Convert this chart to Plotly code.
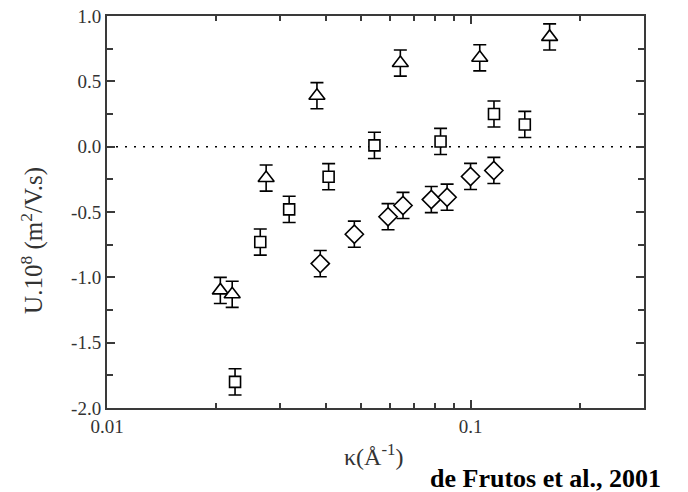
import plotly.graph_objects as go

# ---- data ----
tri_x = [0.0205, 0.0221, 0.0274, 0.0378, 0.0641, 0.106, 0.165]
tri_y = [-1.10, -1.13, -0.24, 0.39, 0.64, 0.68, 0.84]
tri_err = [0.10, 0.10, 0.10, 0.10, 0.10, 0.10, 0.10]

sq_x = [0.0225, 0.0264, 0.0317, 0.0407, 0.0544, 0.0827, 0.116, 0.141]
sq_y = [-1.80, -0.73, -0.48, -0.23, 0.01, 0.04, 0.25, 0.17]
sq_err = [0.10, 0.10, 0.10, 0.10, 0.10, 0.10, 0.10, 0.10]

dia_x = [0.0386, 0.0479, 0.0593, 0.0652, 0.078, 0.0862, 0.100, 0.1159]
dia_y = [-0.895, -0.67, -0.536, -0.45, -0.405, -0.387, -0.228, -0.182]
dia_err = [0.10, 0.10, 0.10, 0.10, 0.10, 0.10, 0.10, 0.10]

x_major = [0.01, 0.1]
x_major_text = ["0.01", "0.1"]
x_minor = [0.02, 0.03, 0.04, 0.05, 0.06, 0.07, 0.08, 0.09, 0.2]
y_major = [-2.0, -1.5, -1.0, -0.5, 0.0, 0.5, 1.0]
y_major_text = ["-2.0", "-1.5", "-1.0", "-0.5", "0.0", "0.5", "1.0"]

FONT = "Liberation Serif, Times New Roman, serif"
AX = "#3a3a3a"

fig = go.Figure()

def add_series(xs, ys, errs, symbol, size):
    fig.add_trace(go.Scatter(
        x=xs, y=ys, mode="markers",
        marker=dict(symbol=symbol, size=size, color="white",
                    line=dict(color="black", width=1.6)),
        error_y=dict(type="data", array=errs, visible=True,
                     color="black", thickness=1.6, width=6.5),
        showlegend=False, hoverinfo="x+y"))

add_series(tri_x, tri_y, tri_err, "triangle-up", 14)
add_series(sq_x, sq_y, sq_err, "square", 11)
add_series(dia_x, dia_y, dia_err, "diamond", 14)

fig.add_shape(type="line", xref="paper", yref="y", x0=0, x1=1, y0=0, y1=0,
              line=dict(color="black", width=1.5, dash="2px,7px"), layer="below")

fig.update_xaxes(
    type="log", range=[-2, -0.5229],
    tickvals=x_major, ticktext=x_major_text,
    ticks="inside", ticklen=8, tickwidth=1.5, tickcolor=AX,
    minor=dict(tickvals=x_minor, ticks="inside", ticklen=5, tickwidth=1.5, tickcolor=AX),
    showline=True, linecolor=AX, linewidth=2, mirror="ticks",
    showgrid=False, zeroline=False, ticklabeloverflow="allow", automargin=False,
    tickfont=dict(family=FONT, size=19, color="#333"))

fig.update_yaxes(
    range=[-2, 1],
    tickvals=y_major, ticktext=y_major_text,
    ticks="inside", ticklen=8, tickwidth=1.5, tickcolor=AX,
    minor=dict(dtick=0.25, ticks="inside", ticklen=6, tickwidth=1.5, tickcolor=AX),
    showline=True, linecolor=AX, linewidth=2, mirror="ticks",
    showgrid=False, zeroline=False, ticklabeloverflow="allow", automargin=False,
    tickfont=dict(family=FONT, size=19, color="#333"))

fig.add_annotation(text="U.10<sup>8</sup> (m<sup>2</sup>/V.s)", xref="paper", yref="paper",
                   x=-0.138, y=0.4286, textangle=-90, showarrow=False,
                   xanchor="center", yanchor="middle",
                   font=dict(family=FONT, size=25, color="#333"))
fig.add_annotation(text="κ(Å<sup>-1</sup>)", xref="paper", yref="paper",
                   x=0.497, y=-0.12, showarrow=False,
                   xanchor="center", yanchor="middle",
                   font=dict(family=FONT, size=24, color="#333"))
fig.add_annotation(text="<b>de Frutos et al., 2001</b>", xref="paper", yref="paper",
                   x=0.8175, y=-0.181, showarrow=False,
                   xanchor="center", yanchor="middle",
                   font=dict(family=FONT, size=26, color="black"))

fig.update_layout(
    width=688, height=492,
    margin=dict(l=107, r=44, t=16, b=84, autoexpand=False),
    paper_bgcolor="white", plot_bgcolor="white")

# remove the default page margin so the figure fills the window exactly
fig.write_html("out.html",
               config={"displayModeBar": False},
               post_script="document.body.style.margin='0';document.body.style.overflow='hidden';")
